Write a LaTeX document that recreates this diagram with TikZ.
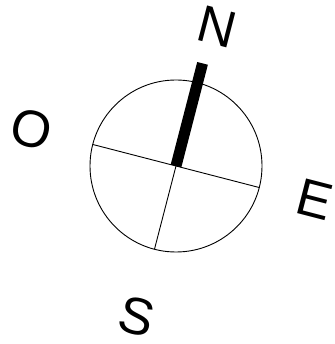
\documentclass[tikz,border=0pt]{standalone}
\usepackage{fontspec}
\setmainfont{Liberation Sans}
\usetikzlibrary{calc}
\begin{document}
\begin{tikzpicture}[x=1pt,y=1pt,
  thinline/.style={line width=0.9pt},
  needle/.style={line width=11pt},
  letter/.style={inner sep=0pt, font=\fontsize{52}{52}\selectfont, rotate=-14.5}]
\useasboundingbox (0,0) rectangle (334,344);
\coordinate (c) at (176,178);
\draw[thinline] (c) circle (86);
\coordinate (w) at ($(c)+(165.5:86)$);
\coordinate (e) at ($(c)+(-14.5:86)$);
\coordinate (s) at ($(c)+(-104.5:86)$);
\coordinate (n) at ($(c)+(75.5:106)$);
\draw[thinline] (w) -- (e);
\draw[thinline] (c) -- (s);
\draw[needle] (c) -- (n);
\node[letter] (N) at (217,317) {N};
\node[letter] (O) at (32,215) {O};
\node[letter] (E) at (315,144) {E};
\node[letter] (S) at (137,27) {S};
\end{tikzpicture}
\end{document}
